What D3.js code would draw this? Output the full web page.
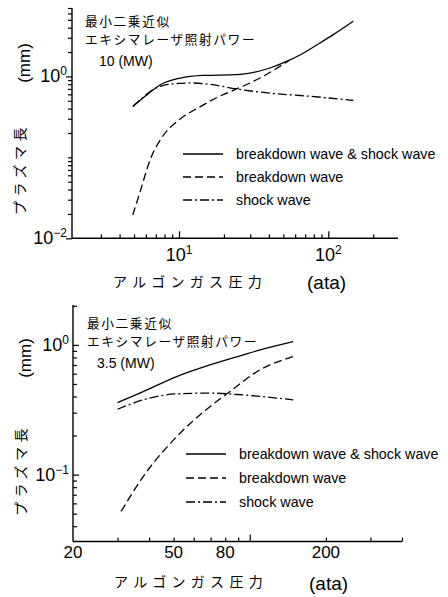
<!DOCTYPE html>
<html>
<head>
<meta charset="utf-8">
<script src="https://cdn.jsdelivr.net/npm/d3@7"></script>
<style>
  body { margin: 0; background: #fff; }
  svg { display: block; }
  .lat { font-family: "Liberation Sans", Arial, sans-serif; }
  .jp { font-family: "Noto Sans CJK JP", sans-serif; }
</style>
</head>
<body>
<svg id="chart" width="448" height="597"></svg>
<script>
// ---- data ----
// upper panel : 10 MW
var topBothPressure = [4.9, 6.1, 7.5, 10.2, 14.5, 24.3, 31.5, 40.7, 52.6, 65, 88, 108, 147];
var topBothLength   = [0.425, 0.594, 0.789, 0.955, 1.03, 1.05, 1.12, 1.27, 1.53, 1.85, 2.59, 3.28, 4.8];
var topBreakPressure = [4.9, 5.5, 6.4, 7.5, 10, 13.8, 18, 24.3, 34.9, 47.4, 55];
var topBreakLength   = [0.0194, 0.038, 0.093, 0.165, 0.29, 0.42, 0.55, 0.70, 0.955, 1.33, 1.59];
var topShockPressure = [4.9, 5.8, 6.7, 8, 10, 12, 16, 24.3, 40.7, 68, 147];
var topShockLength   = [0.425, 0.56, 0.69, 0.78, 0.82, 0.83, 0.80, 0.70, 0.62, 0.577, 0.505];

// lower panel : 3.5 MW
var botBothPressure = [30, 37.9, 51.4, 69.6, 94.3, 110, 148.5];
var botBothLength   = [0.359, 0.436, 0.570, 0.701, 0.838, 0.915, 1.06];
var botBreakPressure = [31, 37.9, 51.4, 69.6, 83.4, 109.6, 148.5];
var botBreakLength   = [0.052, 0.0966, 0.196, 0.334, 0.436, 0.641, 0.812];
var botShockPressure = [30, 37.9, 51.4, 69.6, 94.3, 148.5];
var botShockLength   = [0.319, 0.377, 0.419, 0.425, 0.411, 0.377];

var legendLabels = ["breakdown wave & shock wave", "breakdown wave", "shock wave"];
var noteLines = ["最小二乗近似", "エキシマレーザ照射パワー"];
var powerLabels = ["10 (MW)", "3.5 (MW)"];
var yTitle = "プラズマ長";
var yUnit = "(mm)";
var xTitle = "アルゴンガス圧力";
var xUnit = "(ata)";

var topXTicks = [3, 4, 5, 6, 7, 8, 9, 20, 30, 40, 50, 60, 70, 80, 90, 200];
var topXMajor = [10, 100];
var topYTicks = [0.02, 0.03, 0.04, 0.05, 0.06, 0.07, 0.08, 0.09, 0.1,
                 0.2, 0.3, 0.4, 0.5, 0.6, 0.7, 0.8, 0.9, 2, 3, 4, 5, 6, 7];
var topYMajor = [0.01, 1];
var botXTicks = [30, 40, 50, 60, 70, 80, 90, 200, 300, 400];
var botXMajor = [100];
var botXLabels = [20, 50, 80, 200];
var botYTicks = [0.04, 0.05, 0.06, 0.07, 0.08, 0.09, 0.2, 0.3, 0.4, 0.5, 0.6, 0.7, 0.8, 0.9, 2];
var botYMajor = [0.1, 1];

var dashStyles = [null, "8,4", "9,3,2,3"];

var svg = d3.select("#chart");

function zip(xs, ys) {
  return xs.map(function(d, i) { return [d, ys[i]]; });
}

function drawPanel(p) {
  var x = d3.scaleLog().domain(p.xDomain).range(p.xRange);
  var y = d3.scaleLog().domain(p.yDomain).range(p.yRange);
  var g = svg.append("g");

  // axis lines
  g.append("line")
    .attr("x1", p.xRange[0]).attr("x2", p.xRange[0])
    .attr("y1", p.yRange[0]).attr("y2", p.yRange[1])
    .attr("stroke", "#000").attr("stroke-width", 1.4);
  g.append("line")
    .attr("x1", p.xRange[0]).attr("x2", p.xRange[1])
    .attr("y1", p.yRange[0]).attr("y2", p.yRange[0])
    .attr("stroke", "#000").attr("stroke-width", 1.4);

  // ticks
  var yAx = p.yInward ? d3.axisRight : d3.axisLeft;
  [[p.yTicks, 4], [p.yMajor, 6]].forEach(function(t) {
    g.append("g")
      .attr("transform", "translate(" + p.xRange[0] + ",0)")
      .call(yAx(y).tickValues(t[0]).tickSize(t[1]).tickFormat(""))
      .call(function(s) { s.select(".domain").remove(); });
  });
  [[p.xTicks, 4], [p.xMajor, 7]].forEach(function(t) {
    g.append("g")
      .attr("transform", "translate(0," + p.yRange[0] + ")")
      .call(d3.axisTop(x).tickValues(t[0]).tickSize(t[1]).tickFormat(""))
      .call(function(s) { s.select(".domain").remove(); });
  });
  g.selectAll(".tick line").attr("stroke", "#000").attr("stroke-width", 1.2);

  // y tick labels (powers of ten)
  p.yLabels.forEach(function(v) {
    var e = Math.round(Math.log10(v));
    var t = g.append("text").attr("class", "lat")
      .attr("x", p.xRange[0] - (p.yInward ? 4 : 5))
      .attr("y", y(v) + 6)
      .attr("text-anchor", "end")
      .attr("font-size", 18);
    t.append("tspan").text("10");
    t.append("tspan").attr("font-size", 12).attr("dy", -7)
      .text(e < 0 ? "\u2212" + (-e) : String(e));
  });

  // x tick labels
  p.xLabels.forEach(function(v) {
    var t = g.append("text").attr("class", "lat")
      .attr("x", x(v))
      .attr("y", p.yRange[0] + p.xLabelDy)
      .attr("text-anchor", "middle")
      .attr("font-size", p.xSci ? 18 : 17);
    if (p.xSci) {
      t.append("tspan").text("10");
      t.append("tspan").attr("font-size", 12).attr("dy", -7)
        .text(Math.round(Math.log10(v)));
    } else {
      t.text(v);
    }
  });

  // curves
  var line = d3.line()
    .x(function(d) { return x(d[0]); })
    .y(function(d) { return y(d[1]); })
    .curve(d3.curveMonotoneX);

  p.series.forEach(function(s, i) {
    g.append("path")
      .datum(s)
      .attr("d", line)
      .attr("fill", "none")
      .attr("stroke", "#000")
      .attr("stroke-width", 1.3)
      .attr("stroke-dasharray", dashStyles[i]);
  });

  // legend
  legendLabels.forEach(function(lab, i) {
    var ly = p.legend.y + i * p.legend.step;
    g.append("line")
      .attr("x1", p.legend.x).attr("x2", p.legend.x + 40)
      .attr("y1", ly).attr("y2", ly)
      .attr("stroke", "#000").attr("stroke-width", 1.3)
      .attr("stroke-dasharray", dashStyles[i]);
    g.append("text").attr("class", "lat")
      .attr("x", p.legend.x + 53).attr("y", ly + 5)
      .attr("font-size", 14.3)
      .text(lab);
  });

  // notes: one text block, one tspan per line
  var note = g.append("text").attr("class", "jp")
    .attr("x", p.note.x).attr("y", p.note.y)
    .attr("font-size", 12.7).attr("letter-spacing", 1.6);
  noteLines.forEach(function(s, i) {
    note.append("tspan")
      .attr("x", p.note.x).attr("dy", i ? 18.6 : 0)
      .text(s);
  });
  g.append("text").attr("class", "lat")
    .attr("x", p.note.x + p.note.powerDx).attr("y", p.note.y + p.note.powerDy)
    .attr("font-size", 14)
    .text(p.power);

  // axis titles
  g.append("text").attr("class", "lat")
    .attr("transform", "translate(" + p.yUnitPos[0] + "," + p.yUnitPos[1] + ") rotate(-90)")
    .attr("text-anchor", "middle").attr("font-size", 17)
    .text(yUnit);
  g.append("text").attr("class", "jp")
    .attr("transform", "translate(" + p.yTitlePos[0] + "," + p.yTitlePos[1] + ") rotate(-90)")
    .attr("text-anchor", "middle").attr("font-size", 14).attr("letter-spacing", 4.5)
    .text(yTitle);
  g.append("text").attr("class", "jp")
    .attr("x", p.xTitlePos[0]).attr("y", p.xTitlePos[1])
    .attr("font-size", 14).attr("letter-spacing", 5.3)
    .text(xTitle);
  g.append("text").attr("class", "lat")
    .attr("x", p.xUnitPos[0]).attr("y", p.xUnitPos[1])
    .attr("font-size", 19)
    .text(xUnit);
}

drawPanel({
  xDomain: [1.92, 293], xRange: [72, 398],
  yDomain: [0.01, 7], yRange: [238.3, 8],
  xTicks: topXTicks, xMajor: topXMajor, xLabels: [10, 100], xSci: true, xLabelDy: 23,
  yTicks: topYTicks, yMajor: topYMajor, yLabels: [1, 0.01], yInward: false,
  series: [zip(topBothPressure, topBothLength),
           zip(topBreakPressure, topBreakLength),
           zip(topShockPressure, topShockLength)],
  legend: { x: 183, y: 154, step: 23 },
  note: { x: 85, y: 25.5, powerDx: 14, powerDy: 40.5 },
  power: powerLabels[0],
  yUnitPos: [30, 63], yTitlePos: [25, 169],
  xTitlePos: [113, 287], xUnitPos: [307, 289]
});

drawPanel({
  xDomain: [20, 400], xRange: [73, 402],
  yDomain: [0.0305, 2.03], yRange: [541.5, 305],
  xTicks: botXTicks, xMajor: botXMajor, xLabels: botXLabels, xSci: false, xLabelDy: 16,
  yTicks: botYTicks, yMajor: botYMajor, yLabels: [1, 0.1], yInward: true,
  series: [zip(botBothPressure, botBothLength),
           zip(botBreakPressure, botBreakLength),
           zip(botShockPressure, botShockLength)],
  legend: { x: 186, y: 454, step: 24 },
  note: { x: 87, y: 327.5, powerDx: 10, powerDy: 40.5 },
  power: powerLabels[1],
  yUnitPos: [31, 358], yTitlePos: [26, 470],
  xTitlePos: [114, 587], xUnitPos: [309, 590]
});
</script>
</body>
</html>
